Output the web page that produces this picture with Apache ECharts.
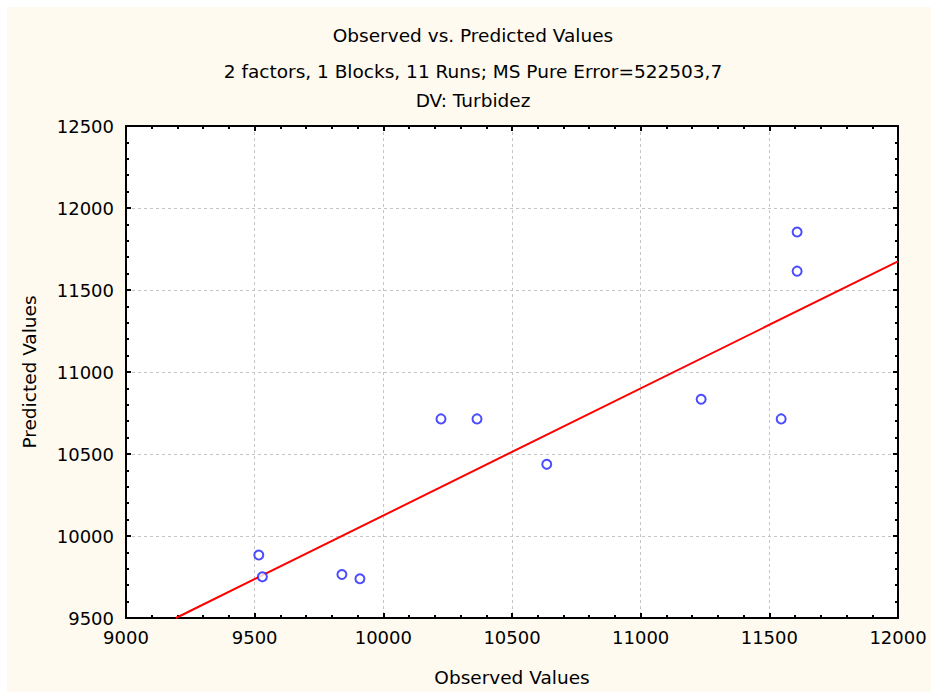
<!DOCTYPE html>
<html>
<head>
<meta charset="utf-8">
<title>Observed vs. Predicted Values</title>
<script src="https://cdn.jsdelivr.net/npm/echarts@6/dist/echarts.min.js"></script>
<style>
  html, body { margin: 0; padding: 0; background: #ffffff; }
  #chart { width: 931px; height: 692px; }
</style>
</head>
<body>
<div id="chart"></div>
<script>
// Observed response (Turbidez) and model predictions for the 11 runs
var observed  = [9516, 9530, 9839, 9909, 10224, 10364, 10635, 11235, 11546, 11608, 11608];
var predicted = [9884, 9751, 9765, 9739, 10714, 10714, 10437, 10834, 10714, 11854, 11615];

// Fitted line endpoints (observed, predicted)
var fitLineX = [9194, 12000];
var fitLineY = [9500, 11675];

// Axis ranges and steps
var xRange = [9000, 12000];
var yRange = [9500, 12500];
var majorStep = 500;

var titleLines = [
  'Observed vs. Predicted Values',
  '2 factors, 1 Blocks, 11 Runs; MS Pure Error=522503,7',
  'DV: Turbidez'
];
var xName = 'Observed Values';
var yName = 'Predicted Values';

var FONT = 'DejaVu Sans';
var cream = '#fefaf0';

var points = observed.map(function (x, i) { return [x, predicted[i]]; });
var fitLine = fitLineX.map(function (x, i) { return [x, fitLineY[i]]; });

function plainNumber(v) { return String(v); }

function baseAxis(range, extra) {
  var ax = {
    type: 'value',
    min: range[0],
    max: range[1],
    interval: majorStep,
    axisLine: { show: true, onZero: false, lineStyle: { color: '#000', width: 2 } },
    axisTick: { show: true, inside: true, length: 5, lineStyle: { color: '#000', width: 2 } },
    minorTick: { show: true, splitNumber: 5, length: 3, lineStyle: { color: '#000', width: 2 } },
    axisLabel: { show: false },
    splitLine: { show: false },
    minorSplitLine: { show: false }
  };
  for (var k in extra) ax[k] = extra[k];
  return ax;
}

var gridLine = { show: true, lineStyle: { color: '#c4c4c4', width: 1, type: [3, 3] } };

function titleText(text, y) {
  return {
    type: 'text', x: 473, y: y, silent: true,
    style: { text: text, align: 'center', verticalAlign: 'middle', font: '18.5px "' + FONT + '"', fill: '#000' }
  };
}

var option = {
  backgroundColor: '#ffffff',
  animation: false,
  graphic: [
    { type: 'rect', z: -10, silent: true, shape: { x: 7, y: 7, width: 931, height: 692 }, style: { fill: cream } },
    titleText(titleLines[0], 35),
    titleText(titleLines[1], 71),
    titleText(titleLines[2], 100)
  ],
  grid: {
    left: 126, top: 126, right: 33, bottom: 72,
    show: true, backgroundColor: '#ffffff', borderWidth: 0
  },
  xAxis: [
    baseAxis(xRange, {
      position: 'bottom',
      name: xName,
      nameLocation: 'middle',
      nameGap: 50,
      nameTextStyle: { fontFamily: FONT, fontSize: 18.5, color: '#000' },
      axisLabel: { show: true, margin: 10, fontFamily: FONT, fontSize: 18, color: '#000', formatter: plainNumber },
      splitLine: gridLine
    }),
    baseAxis(xRange, { position: 'top' })
  ],
  yAxis: [
    baseAxis(yRange, {
      position: 'left',
      name: yName,
      nameLocation: 'middle',
      nameGap: 87,
      nameTextStyle: { fontFamily: FONT, fontSize: 18.5, color: '#000' },
      axisLabel: { show: true, margin: 12, fontFamily: FONT, fontSize: 18, color: '#000', formatter: plainNumber },
      splitLine: gridLine
    }),
    baseAxis(yRange, { position: 'right' })
  ],
  series: [
    {
      type: 'line',
      data: fitLine,
      xAxisIndex: 0, yAxisIndex: 0,
      showSymbol: false,
      symbol: 'none',
      lineStyle: { color: '#ff0000', width: 2 },
      z: 3
    },
    {
      type: 'scatter',
      data: points,
      xAxisIndex: 0, yAxisIndex: 0,
      symbol: 'emptyCircle',
      symbolSize: 9,
      itemStyle: { color: '#1f1fff', borderColor: '#1f1fff', borderWidth: 1.1 },
      z: 4
    }
  ]
};

var chart = echarts.init(document.getElementById('chart'), null, { renderer: 'svg' });
chart.setOption(option);
</script>
</body>
</html>
